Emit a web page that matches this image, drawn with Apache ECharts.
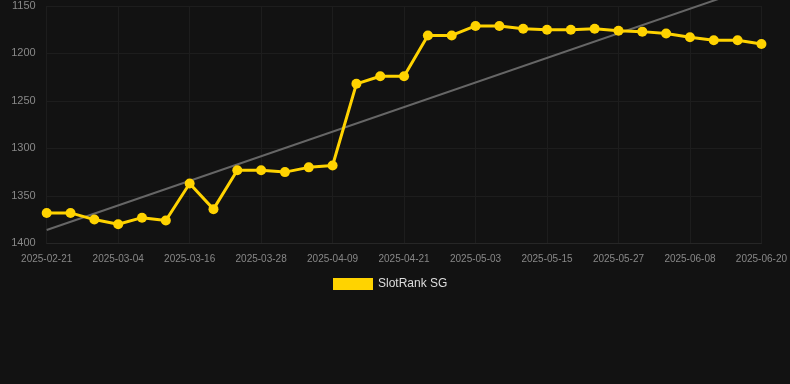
<!DOCTYPE html>
<html>
<head>
<meta charset="utf-8">
<script src="https://cdn.jsdelivr.net/npm/echarts@6/dist/echarts.min.js"></script>
<style>html,body{margin:0;padding:0;background:#121212;}#c{width:790px;height:384px;}</style>
</head>
<body>
<div id="c"></div>
<script>
const categories = ['2025-02-21','2025-02-25','2025-02-28','2025-03-04','2025-03-08','2025-03-12','2025-03-16','2025-03-20','2025-03-24','2025-03-28','2025-04-01','2025-04-05','2025-04-09','2025-04-13','2025-04-17','2025-04-21','2025-04-25','2025-04-29','2025-05-03','2025-05-07','2025-05-11','2025-05-15','2025-05-19','2025-05-23','2025-05-27','2025-05-31','2025-06-04','2025-06-08','2025-06-12','2025-06-16','2025-06-20'];
const rankValues = [1368,1368,1375,1380,1373,1376,1337,1364,1323,1323,1325,1320,1318,1232,1224,1224,1181,1181,1171,1171,1174,1175,1175,1174,1176,1177,1179,1183,1186,1186,1190];
const trendEnds = [1386, 1127];   // trend line values at first and last category
const yTicks = [1150,1200,1250,1300,1350,1400];

const trend = categories.map((c,i)=> i===0 ? trendEnds[0] : (i===categories.length-1 ? trendEnds[1] : null));

const chart = echarts.init(document.getElementById('c'));
chart.setOption({
  backgroundColor: '#121212',
  animation: false,
  grid: {left: 46.7, right: 28, top: 6, bottom: 140.7, containLabel: false},
  legend: {
    data: ['SlotRank SG'],
    top: 278, left: 333, padding: 0,
    itemWidth: 40, itemHeight: 12, itemGap: 10,
    icon: 'rect',
    textStyle: {color: '#dddddd', fontSize: 12, fontFamily: 'Liberation Sans, Arial, sans-serif'}
  },
  xAxis: {
    type: 'category',
    data: categories,
    boundaryGap: false,
    axisLine: {show: true, lineStyle: {color: '#262626'}},
    axisTick: {show: false},
    axisLabel: {interval: 2, color: '#888888', fontSize: 10, margin: 11, fontFamily: 'Liberation Sans, Arial, sans-serif'},
    splitLine: {show: true, interval: 2, lineStyle: {color: '#1d1d1d', width: 1}}
  },
  yAxis: {
    type: 'value',
    inverse: true,
    min: yTicks[0], max: yTicks[yTicks.length-1], interval: 50,
    axisLine: {show: false},
    axisTick: {show: false},
    axisLabel: {color: '#888888', fontSize: 11, margin: 11, formatter: v => String(v), fontFamily: 'Liberation Sans, Arial, sans-serif'},
    splitLine: {show: true, lineStyle: {color: '#1d1d1d', width: 1}}
  },
  series: [
    {
      name: 'SlotRank SG',
      type: 'line',
      data: rankValues,
      color: '#FFD300',
      symbol: 'circle',
      symbolSize: 10,
      lineStyle: {width: 3, color: '#FFD300'},
      itemStyle: {color: '#FFD300'},
      z: 3
    },
    {
      name: 'trend',
      type: 'line',
      data: trend,
      connectNulls: true,
      symbol: 'none',
      lineStyle: {width: 2, color: '#666666'},
      clip: false,
      silent: true,
      z: 2
    }
  ]
});
</script>
</body>
</html>
